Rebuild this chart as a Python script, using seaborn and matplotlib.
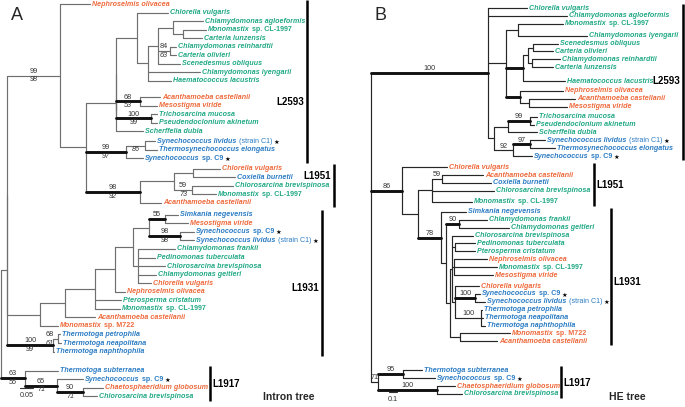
import matplotlib
matplotlib.use("Agg")
import pandas as pd
import matplotlib.pyplot as plt
import seaborn as sns

# ---- data ---------------------------------------------------------------
# leaf names, top to bottom; a trailing * marks the two strains of interest
LEAVES_A = [
    "Nephroselmis olivacea", "Chlorella vulgaris", "Chlamydomonas agloeformis",
    "Monomastix sp. CL-1997", "Carteria lunzensis", "Chlamydomonas reinhardtii",
    "Carteria olivieri", "Scenedesmus obliquus", "Chlamydomonas iyengarii",
    "Haematococcus lacustris", "Acanthamoeba castellanii", "Mesostigma viride",
    "Trichosarcina mucosa", "Pseudendoclonium akinetum", "Scherffelia dubia",
    "Synechococcus lividus (strain C1)*", "Thermosynechococcus elongatus",
    "Synechococcus sp. C9*", "Chlorella vulgaris", "Coxiella burnetii",
    "Chlorosarcina brevispinosa", "Monomastix sp. CL-1997", "Acanthamoeba castellanii",
    "Simkania negevensis", "Mesostigma viride", "Synechococcus sp. C9*",
    "Synechococcus lividus (strain C1)*", "Chlamydomonas frankii",
    "Pedinomonas tuberculata", "Chlorosarcina brevispinosa", "Chlamydomonas geitleri",
    "Chlorella vulgaris", "Nephroselmis olivacea", "Pterosperma cristatum",
    "Monomastix sp. CL-1997", "Acanthamoeba castellanii", "Monomastix sp. M722",
    "Thermotoga petrophila", "Thermotoga neapolitana", "Thermotoga naphthophila",
    "Thermotoga subterranea", "Synechococcus sp. C9*", "Chaetosphaeridium globosum",
    "Chlorosarcina brevispinosa",
]
# o = orange, g = green, b = blue
GROUPS_A = list("ogggggggggoogggbbbobggobobbggggooggoobbbbbog")

LEAVES_B = [
    "Chlorella vulgaris", "Chlamydomonas agloeformis", "Monomastix sp. CL-1997",
    "Chlamydomonas iyengarii", "Scenedesmus obliquus", "Carteria olivieri",
    "Chlamydomonas reinhardtii", "Carteria lunzensis", "Haematococcus lacustris",
    "Nephroselmis olivacea", "Acanthamoeba castellanii", "Mesostigma viride",
    "Trichosarcina mucosa", "Pseudendoclonium akinetum", "Scherffelia dubia",
    "Synechococcus lividus (strain C1)*", "Thermosynechococcus elongatus",
    "Synechococcus sp. C9*", "Chlorella vulgaris", "Acanthamoeba castellanii",
    "Coxiella burnetii", "Chlorosarcina brevispinosa", "Monomastix sp. CL-1997",
    "Simkania negevensis", "Chlamydomonas frankii", "Chlamydomonas geitleri",
    "Chlorosarcina brevispinosa", "Pedinomonas tuberculata", "Pterosperma cristatum",
    "Nephroselmis olivacea", "Monomastix sp. CL-1997", "Mesostigma viride",
    "Chlorella vulgaris", "Synechococcus sp. C9*", "Synechococcus lividus (strain C1)*",
    "Thermotoga petrophila", "Thermotoga neapolitana", "Thermotoga naphthophila",
    "Monomastix sp. M722", "Acanthamoeba castellanii", "Thermotoga subterranea",
    "Synechococcus sp. C9*", "Chaetosphaeridium globosum", "Chlorosarcina brevispinosa",
]
GROUPS_B = list("gggggggggooogggbbboobggbgggggogoobbbbboobbog")

# topologies: leaves are indices into the lists above, node labels are
# support values (upper/lower), lengths measured against the scale bar
NEWICK_A = """
((((0:30,
    ((((1:31,(((2:30,(3:23,4:19):10):15,(5:6,6:6)84/63:12,7:22):10,8:52,9:23):11):21,
       ((10:20,11:17)68/53:24,(12:6,13:6)100/99:35):0):0,14:27):30,
     ((15:10,16:12)/86:19,17:17)99/97:40,
     (((18:27,19:42):19,(20:41,21:24)59/73:18):34,22:21)98/92:54):26
   )99/98:53,
   (((((((23:13,24:23)55/:16,(25:14,26:14)98/98:31):16,
       (27:37,28:17,29:27,30:18,31:13):5):18,32:10):20,33:26,34:25):30,35:30):25,
    36:18):33
  ):0,
  ((37:1.5,38:3)68/61:5,39:1)100/99:46
 ):6,
 (40:33,(41:26,(42:20,43:14)90/71:26)65/71:32)63/55:24
);
"""

NEWICK_B = """
(
 (0:39,1:79,
  ((2:45,3:69):12,
   (((4:25,5:20):5,(6:28,7:21):4):5,8:42):17,
   (9:43,(10:46,11:38):9):14):18,
  (((12:7,13:4)99:22,14:29):14,
   ((15:15,16:25)97:17,17:19)92:19):6
 )100:117,
 (18:45,
  (((19:41,20:49)59:10,21:62,22:40):14,
   (23:25,
    ((24:28,25:50)90:13,
     ((26:21,(27:20,28:20):3,(29:33,30:43,31:39):2,
       (32:24,(33:5,34:10)100:20,(35:1,36:2,37:4)100:26):3):2,
      (38:50,39:37):10):4):5)78:23):16)86:31,
 ((40:19,41:32)95:25,(42:18,43:25)100:59)71:7
);
"""

SCALE_A = (0.05, 13.3)   # scale-bar value, its length in branch units
SCALE_B = (0.1, 8.0)

CLADES = ["L2593", "L1951", "L1931", "L1917"]
CLADE_SPANS = [(0, 17), (18, 22), (23, 39), (40, 43)]

# ---- styling / layout ---------------------------------------------------
COLORS = {"o": "#ee6a3c", "g": "#22a985", "b": "#2b7cc4"}
W, H = 685, 407
FS = 5.1

ROW_GAPS_A = {10: 0.88, 15: 0.18, 18: 0.18, 23: 0.41, 40: 1.23}
ROW_GAPS_B = {3: 0.5, 8: 0.75, 9: 0.25, 12: 0.25, 18: 0.4, 22: 0.4,
              23: 0.25, 32: 0.4, 40: 2.65}
BOLD_A = {(0, 17), (10, 11), (12, 13), (15, 17), (18, 22), (23, 24), (25, 26),
          (37, 39), (40, 43), (41, 43), (42, 43)}
BOLD_B = {(0, 17), (18, 39), (23, 39), (24, 25), (33, 34), (12, 13), (15, 16),
          (40, 41), (42, 43), (4, 8), (9, 11)}
# support labels that sit left of their branch centre (branch units)
LABEL_SHIFT = {(37, 38): -6}

sns.set_theme(style="white")
plt.rcParams["font.family"] = ["Liberation Sans", "DejaVu Sans"]


def parse_newick(text):
    s = "".join(text.split())
    pos = 0

    def node():
        nonlocal pos
        kids = []
        if s[pos] == "(":
            pos += 1
            while True:
                kids.append(node())
                if s[pos] == ",":
                    pos += 1
                else:
                    pos += 1
                    break
        start = pos
        while s[pos] not in ":,);":
            pos += 1
        label = s[start:pos]
        length = 0.0
        if s[pos] == ":":
            pos += 1
            start = pos
            while s[pos] not in ",);":
                pos += 1
            length = float(s[start:pos])
        return {"label": label, "len": length, "kids": kids}

    return node()


def rows(n, gaps):
    out, extra = [], 0.0
    for i in range(n):
        extra += gaps.get(i, 0)
        out.append(i + extra)
    return out


def place(nd, x0, ys):
    nd["x"] = x0 + nd["len"]
    if not nd["kids"]:
        i = int(nd["label"])
        nd["y"], nd["span"] = ys[i], (i, i)
        return
    for k in nd["kids"]:
        place(k, nd["x"], ys)
    nd["y"] = (nd["kids"][0]["y"] + nd["kids"][-1]["y"]) / 2
    nd["span"] = (min(k["span"][0] for k in nd["kids"]),
                  max(k["span"][1] for k in nd["kids"]))


def split_name(name):
    star = name.endswith("*")
    name = name.rstrip("*")
    for key in (" sp.", " ("):
        if key in name:
            i = name.index(key)
            return name[:i], name[i:], star
    return name, "", star


def draw_tree(ax, newick, names, groups, gaps, bold, thin_color):
    ys = rows(len(names), gaps)
    root = parse_newick(newick)
    place(root, 0.0, ys)

    segs, labels, leaves = [], [], []
    stack = [(root, None)]
    while stack:
        nd, par = stack.pop()
        if par is not None:
            kind = "bold" if nd["span"] in bold and nd["kids"] else "thin"
            segs.append((par["x"], nd["y"], nd["x"], nd["y"], kind))
            if nd["kids"] and nd["label"]:
                xm = (par["x"] + nd["x"]) / 2 + LABEL_SHIFT.get(nd["span"], 0)
                labels.append((xm, nd["y"], nd["label"]))
        if nd["kids"]:
            segs.append((nd["x"], nd["kids"][0]["y"], nd["x"], nd["kids"][-1]["y"], "thin"))
            for k in nd["kids"]:
                stack.append((k, nd))
        else:
            leaves.append(nd)

    recs = []
    for i, (x0, y0, x1, y1, kind) in enumerate(segs):
        recs.append({"seg": i, "x": x0, "y": y0, "kind": kind})
        recs.append({"seg": i, "x": x1, "y": y1, "kind": kind})
    df = pd.DataFrame(recs)
    sns.lineplot(data=df, x="x", y="y", units="seg", estimator=None, sort=False,
                 hue="kind", size="kind", hue_order=["thin", "bold"],
                 palette={"thin": thin_color, "bold": "#111111"},
                 sizes={"thin": 0.85, "bold": 2.1}, legend=False, ax=ax)

    for x, y, lab in labels:
        up, lo = lab.split("/") if "/" in lab else (lab, "")
        if up:
            ax.annotate(up, xy=(x, y), xytext=(0, 0.5), textcoords="offset points",
                        ha="center", va="bottom", fontsize=5.2, color="#333333")
        if lo:
            ax.annotate(lo, xy=(x, y), xytext=(0, -0.6), textcoords="offset points",
                        ha="center", va="top", fontsize=5.2, color="#333333",
                        style="italic")

    for nd in leaves:
        i = int(nd["label"])
        ital, rest, star = split_name(names[i])
        c = COLORS[groups[i]]
        t = ax.annotate(ital, xy=(nd["x"], nd["y"]), xytext=(1.6, 0),
                        textcoords="offset points", ha="left", va="center",
                        fontsize=FS, style="italic", weight="bold", color=c)
        if rest:
            t = ax.annotate(rest, xy=(1, 0), xycoords=t, ha="left", va="bottom",
                            fontsize=FS, color=c,
                            weight="normal" if rest.startswith(" (") else "bold")
        if star:
            ax.annotate(" \u2605", xy=(1, 0), xycoords=t, ha="left", va="bottom",
                        fontsize=4.6, color="black", family="DejaVu Sans")
    return ys


def clade_bars(ax, ys, bar_x, sides, fracs):
    for name, (a, b), bx, side, f in zip(CLADES, CLADE_SPANS, bar_x, sides, fracs):
        y0, y1 = ys[a] - 0.5, ys[b] + 0.5
        ax.plot([bx, bx], [y0, y1], color="black", lw=1.8, solid_capstyle="butt")
        dx = -2 if side == "left" else 2
        ax.annotate(name, xy=(bx, y0 + f * (y1 - y0)), xytext=(dx, 0),
                    textcoords="offset points", ha="right" if side == "left" else "left",
                    va="center", fontsize=7, weight="bold", color="black")


def scale_bar(ax, x0, y, scale):
    value, length = scale
    ax.plot([x0, x0 + length], [y, y], color="#333333", lw=0.8)
    ax.annotate(f"{value:g}", xy=(x0 + length / 2, y), xytext=(0, -2.8),
                textcoords="offset points", ha="center", va="top",
                fontsize=5.2, color="#333333")


fig = plt.figure(figsize=(W / 100, H / 100), dpi=100)

# panel A: intron tree
ax_a = fig.add_axes([0, 0, 340 / W, 1])
ys_a = draw_tree(ax_a, NEWICK_A, LEAVES_A, GROUPS_A, ROW_GAPS_A, BOLD_A, "#6f6f6f")
ax_a.set_xlim(-1, 339)
ax_a.set_ylim((H - 4) / 8.55, -4 / 8.55)
clade_bars(ax_a, ys_a, [306, 332.5, 321, 209],
           ["left", "left", "left", "right"], [0.63, 0.28, 0.53, 0.52])
scale_bar(ax_a, 19, (388 - 4) / 8.55, SCALE_A)
ax_a.set_axis_off()

# panel B: HE tree
ax_b = fig.add_axes([340 / W, 0, 345 / W, 1])
ys_b = draw_tree(ax_b, NEWICK_B, LEAVES_B, GROUPS_B, ROW_GAPS_B, BOLD_B, "#262626")
ax_b.set_xlim(-31, 314)
ax_b.set_ylim((H - 8) / 7.9, -8 / 7.9)
clade_bars(ax_b, ys_b, [312.3, 223, 240, 190],
           ["left", "right", "right", "right"], [0.49, 0.51, 0.54, 0.52])
scale_bar(ax_b, 18, (392 - 8) / 7.9, SCALE_B)
ax_b.set_axis_off()

fig.text(16.5 / W, 1 - 15 / H, "A", fontsize=13, ha="center", va="center")
fig.text(381 / W, 1 - 15 / H, "B", fontsize=13, ha="center", va="center")
fig.text(289 / W, 1 - 397 / H, "Intron tree", fontsize=7.5, weight="bold",
         ha="center", va="center")
fig.text(627 / W, 1 - 397 / H, "HE tree", fontsize=7.5, weight="bold",
         ha="center", va="center")

fig.savefig("out.png", dpi=100, facecolor="white")
